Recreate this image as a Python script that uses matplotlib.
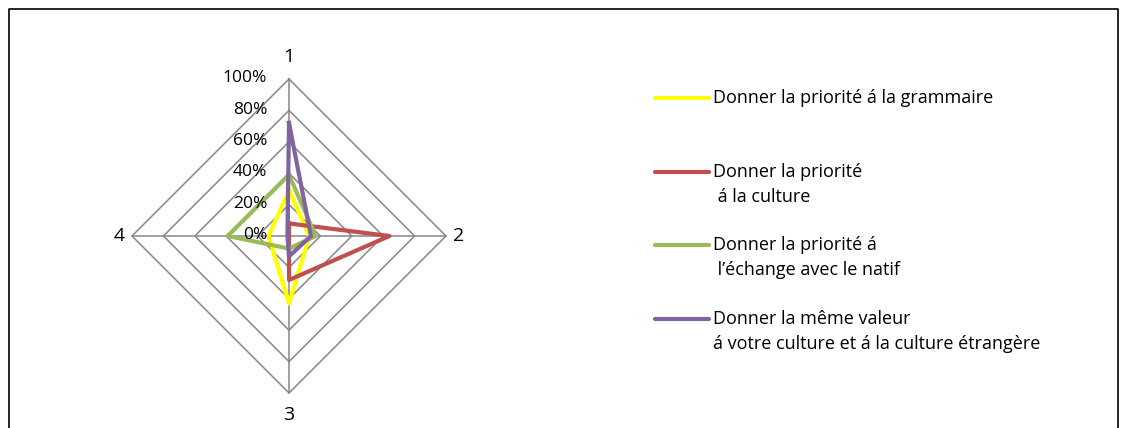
import numpy as np
import matplotlib
matplotlib.use("Agg")
import matplotlib.pyplot as plt
from matplotlib.lines import Line2D

# ---- data ----
axis_labels = ["1", "2", "3", "4"]
ring_levels = [0.0, 0.2, 0.4, 0.6, 0.8, 1.0]
ring_labels = ["0%", "20%", "40%", "60%", "80%", "100%"]
series_names = [
    "Donner la priorité á la grammaire",
    "Donner la priorité\n á la culture",
    "Donner la priorité á\n l’échange avec le natif",
    "Donner la même valeur\ná votre culture et á la culture étrangère",
]
grammaire = [0.29, 0.13, 0.43, 0.13]
culture = [0.08, 0.64, 0.28, 0.00]
echange = [0.39, 0.17, 0.08, 0.39]
meme_valeur = [0.72, 0.14, 0.13, 0.01]
series_values = [grammaire, culture, echange, meme_valeur]
colors = ["#FFFF00", "#C0504D", "#9BBB59", "#8064A2"]

W, H = 1125, 428
fig = plt.figure(figsize=(W / 100, H / 100), dpi=100)

# radar axes placement (pixels)
cx, cy, R = 289, 236, 157
ax = fig.add_axes([(cx - R) / W, (H - cy - R) / H, 2 * R / W, 2 * R / H])
ax.set_xlim(-1, 1)
ax.set_ylim(-1, 1)
ax.set_aspect("equal")
ax.axis("off")

# clockwise from top
angles = np.pi / 2 - np.arange(len(axis_labels)) * 2 * np.pi / len(axis_labels)

def to_xy(vals):
    v = np.asarray(vals, dtype=float)
    x = v * np.cos(angles)
    y = v * np.sin(angles)
    return np.append(x, x[0]), np.append(y, y[0])

grid_col = "#868686"
for lvl in ring_levels[1:]:
    gx, gy = to_xy([lvl] * len(axis_labels))
    ax.plot(gx, gy, color=grid_col, lw=1.1, zorder=1, clip_on=False)
for a in angles:
    ax.plot([0, np.cos(a)], [0, np.sin(a)], color=grid_col, lw=1.1, zorder=1, clip_on=False)

for vals, col in zip(series_values, colors):
    sx, sy = to_xy(vals)
    ax.plot(sx, sy, color=col, lw=3.0, zorder=3, solid_joinstyle="round", clip_on=False)

font = "Open Sans"
# ring labels on top axis
for lvl, lab in zip(ring_levels, ring_labels):
    ax.text(-0.14, lvl + 0.005, lab, ha="right", va="center", fontsize=12.5, family=font,
            color="black", zorder=4, clip_on=False)

# axis labels
lab_r = [1.14, 1.08, 1.14, 1.08]
for a, lab, r in zip(angles, axis_labels, lab_r):
    ax.text(r * np.cos(a), r * np.sin(a), lab, ha="center", va="center",
            fontsize=14, family=font, clip_on=False)

# legend (manual)
leg_y = [98, 172, 245, 319]
line_gap = 25
for name, col, yy in zip(series_names, colors, leg_y):
    fy = 1 - yy / H
    fig.add_artist(Line2D([655 / W, 709 / W], [fy, fy], color=col, lw=3.0,
                          solid_capstyle="round", transform=fig.transFigure))
    for i, part in enumerate(name.split("\n")):
        fig.text(713 / W, 1 - (yy + i * line_gap) / H, part, ha="left", va="center",
                 fontsize=13, family=font, transform=fig.transFigure)

# outer frame (left, top, right)
fig.add_artist(Line2D([9 / W, 9 / W, 1118 / W, 1118 / W], [0, 1 - 9 / H, 1 - 9 / H, 0],
                      color="black", lw=1.2, transform=fig.transFigure))

fig.savefig("out.png", dpi=100, facecolor="white")
